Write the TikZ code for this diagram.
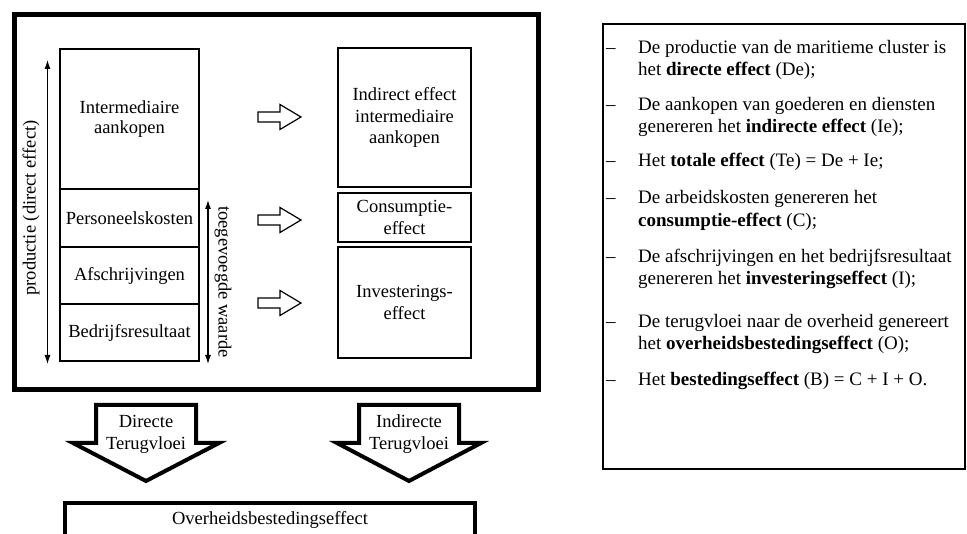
\documentclass[tikz,border=0pt]{standalone}
\usepackage{fontspec}
\setmainfont{Liberation Serif}
\usetikzlibrary{arrows.meta}
\begin{document}
\begin{tikzpicture}[x=1pt,y=-1pt,
  cell/.style={draw, line width=1.3pt, inner sep=0pt, outer sep=0pt, align=center,
    font=\fontsize{18.5}{21.5}\selectfont},
  lbl/.style={inner sep=0pt, align=center, font=\fontsize{18.5}{21.5}\selectfont},
  hollow/.style={draw, line width=1.2pt, line join=miter},
  bigarrow/.style={draw, line width=4pt, line join=miter, fill=white},
  measure/.style={line width=1.1pt, {Latex[length=9pt,width=6pt]}-{Latex[length=9pt,width=6pt]}},
  item/.style={anchor=base west, inner sep=0pt, font=\fontsize{19}{22}\selectfont},
]
\useasboundingbox (0,0) rectangle (967,534);
\clip (0,0) rectangle (967,534);

% outer frame of the cluster
\node[draw, line width=5pt, minimum width=524, minimum height=375, inner sep=0pt] (frame) at (276,202.5) {};

% left column: composition of production
\node[cell, minimum width=139, minimum height=140] (im) at (129.5,119) {Intermediaire\\[-1.5pt]aankopen};
\node[cell, minimum width=139, minimum height=58] (pk) at (129.5,218) {Personeelskosten};
\node[cell, minimum width=139, minimum height=57] (af) at (129.5,275.5) {Afschrijvingen};
\node[cell, minimum width=139, minimum height=57] (br) at (129.5,332.5) {Bedrijfsresultaat};
\draw[line width=2pt] (im.south west) -- (im.south east);

% measure lines
\coordinate (p1) at (47.5,60);
\coordinate (p2) at (47.5,364);
\draw[measure] (p1) -- (p2);
\node[lbl, rotate=90] (prod) at (31,208) {productie (direct effect)};
\coordinate (v1) at (208,200);
\coordinate (v2) at (208,364);
\draw[measure] (v1) -- (v2);
\node[lbl, rotate=-90] (tw) at (223,282) {toegevoegde waarde};

% right column: resulting effects
\node[cell, minimum width=133, minimum height=139] (ie) at (404.5,117.5) {Indirect effect\\intermediaire\\aankopen};
\node[cell, minimum width=133, minimum height=49] (ce) at (404.5,217.5) {Consumptie-\\effect};
\node[cell, minimum width=133, minimum height=111] (inv) at (404.5,302.5) {Investerings-\\effect};

% hollow block arrows
\foreach \yy/\nm in {117/ha, 220/hb, 303/hc}{
  \draw[hollow] (258,\yy-5) -- (280,\yy-5) -- (280,\yy-12.5) -- (301,\yy)
    -- (280,\yy+12.5) -- (280,\yy+5) -- (258,\yy+5) -- cycle;
}

% backflow arrows
\draw[bigarrow] (96,405) -- (196,405) -- (196,443) -- (219,443) -- (146,481)
  -- (73,443) -- (96,443) -- cycle;
\node[lbl, font=\fontsize{18.5}{22}\selectfont] (dt) at (146,434) {Directe\\Terugvloei};
\draw[bigarrow] (359,405) -- (459,405) -- (459,443) -- (481,443) -- (409,481)
  -- (337,443) -- (359,443) -- cycle;
\node[lbl, font=\fontsize{18.5}{22}\selectfont] (it) at (409,434) {Indirecte\\Terugvloei};

% government spending effect
\node[draw, line width=4pt, minimum width=410, minimum height=34, inner sep=0pt] (ob) at (270,520) {};
\node[lbl] (obt) at (ob.center) {Overheidsbestedingseffect};

% legend
\node[draw, line width=1.5pt, minimum width=362, minimum height=445, inner sep=0pt] (legend) at (784,246.5) {};
\foreach \yy/\nm in {54/da, 111/db, 167/dc, 204/dd, 263/de, 328/df, 386/dg}{
  \node[item] (\nm) at (606,\yy) {–};
}
\node[item] (l1a) at (638,54) {De productie van de maritieme cluster is};
\node[item] (l1b) at (638,76) {het \textbf{directe effect} (De);};
\node[item] (l2a) at (638,111) {De aankopen van goederen en diensten};
\node[item] (l2b) at (638,133) {genereren het \textbf{indirecte effect} (Ie);};
\node[item] (l3a) at (638,167) {Het \textbf{totale effect} (Te) = De + Ie;};
\node[item] (l4a) at (638,204) {De arbeidskosten genereren het};
\node[item] (l4b) at (638,227) {\textbf{consumptie-effect} (C);};
\node[item] (l5a) at (638,263) {De afschrijvingen en het bedrijfsresultaat};
\node[item] (l5b) at (638,285) {genereren het \textbf{investeringseffect} (I);};
\node[item] (l6a) at (638,328) {De terugvloei naar de overheid genereert};
\node[item] (l6b) at (638,350) {het \textbf{overheidsbestedingseffect} (O);};
\node[item] (l7a) at (638,386) {Het \textbf{bestedingseffect} (B) = C + I + O.};
\end{tikzpicture}
\end{document}
